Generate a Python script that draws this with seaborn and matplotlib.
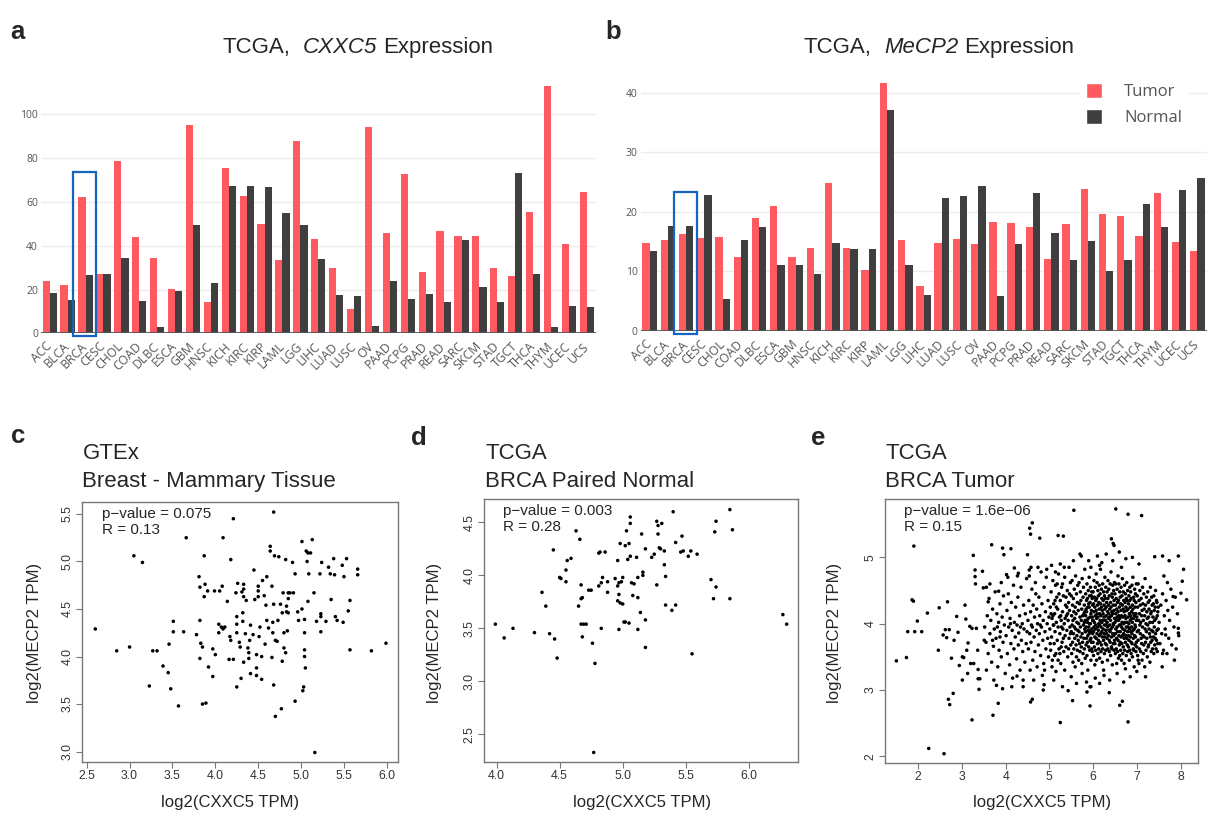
import numpy as np
import pandas as pd
import matplotlib
matplotlib.use("Agg")
import matplotlib.pyplot as plt
import seaborn as sns
from matplotlib.patches import Rectangle, Patch

# ---------------- data ----------------
cancers = ["ACC", "BLCA", "BRCA", "CESC", "CHOL", "COAD", "DLBC", "ESCA", "GBM", "HNSC",
           "KICH", "KIRC", "KIRP", "LAML", "LGG", "LIHC", "LUAD", "LUSC", "OV", "PAAD",
           "PCPG", "PRAD", "READ", "SARC", "SKCM", "STAD", "TGCT", "THCA", "THYM", "UCEC", "UCS"]

cxxc5_tumor = [23.7, 22.2, 62.1, 27.2, 78.7, 44.0, 34.2, 20.1, 95.3, 14.3,
               75.3, 62.9, 50.1, 33.6, 88.0, 43.2, 30.0, 11.1, 94.4, 46.0,
               72.9, 28.2, 46.9, 44.3, 44.3, 30.0, 26.0, 55.6, 113.1, 40.8, 64.4]
cxxc5_normal = [18.6, 15.2, 26.5, 27.2, 34.4, 14.9, 3.0, 19.5, 49.3, 23.0,
                67.1, 67.1, 67.0, 54.8, 49.3, 34.1, 17.4, 17.2, 3.3, 23.7,
                15.8, 18.1, 14.2, 42.5, 21.0, 14.2, 73.2, 27.2, 2.9, 12.6, 11.9]

mecp2_tumor = [14.7, 15.2, 16.2, 15.6, 15.8, 12.4, 18.9, 20.9, 12.5, 13.9,
               24.9, 14.0, 10.2, 41.7, 15.3, 7.6, 14.8, 15.5, 14.6, 18.3,
               18.2, 17.4, 12.0, 17.9, 23.8, 19.6, 19.3, 16.0, 23.1, 15.0, 13.5]
mecp2_normal = [13.4, 17.6, 17.6, 22.8, 5.4, 15.2, 17.4, 11.1, 11.1, 9.5,
                14.7, 13.8, 13.8, 37.1, 11.1, 6.0, 22.4, 22.7, 24.4, 5.9,
                14.6, 23.1, 16.5, 11.9, 15.1, 10.0, 11.9, 21.3, 17.4, 23.7, 25.7]

gtex_breast = [(2.60,4.29),(2.85,4.06),(3.00,4.10),(3.05,5.06),(3.15,4.99),(3.23,3.69),(3.27,4.06),(3.32,4.06),
 (3.39,3.90),(3.45,3.83),(3.46,4.13),(3.48,3.66),(3.51,4.37),(3.51,4.26),(3.57,3.48),(3.63,4.26),(3.66,5.25),
 (3.78,4.23),(3.81,4.84),(3.82,4.38),(3.82,4.73),(3.82,3.98),(3.83,4.14),(3.85,4.10),(3.87,5.06),(3.88,4.76),
 (3.87,4.63),(3.85,3.50),(3.89,3.51),(3.91,4.69),(3.92,3.89),(3.97,4.08),(3.97,3.79),(3.99,4.69),(4.00,4.02),
 (4.05,4.69),(4.04,4.25),(4.04,4.34),(4.07,4.31),(4.08,4.74),(4.09,5.25),(4.09,4.29),(4.11,4.31),(4.14,4.58),
 (4.16,3.97),(4.17,4.21),(4.18,5.02),(4.18,4.17),(4.21,5.45),(4.21,3.97),(4.24,4.67),(4.25,4.42),(4.25,4.34),
 (4.25,4.25),(4.25,3.68),(4.26,4.77),(4.28,4.15),(4.29,4.10),(4.30,3.77),(4.31,4.68),(4.32,4.46),(4.32,4.37),
 (4.33,4.76),(4.33,4.71),(4.33,4.63),(4.35,4.24),(4.33,3.94),(4.36,4.59),(4.38,4.09),(4.39,3.98),(4.39,4.04),
 (4.40,4.17),(4.41,3.82),(4.41,4.33),(4.44,4.23),(4.45,4.91),(4.46,4.60),(4.48,4.02),(4.48,3.80),(4.48,3.88),
 (4.50,4.74),(4.50,4.63),(4.51,4.21),(4.50,4.69),(4.52,4.31),(4.54,4.00),(4.54,3.76),(4.55,4.80),(4.57,4.64),
 (4.58,4.13),(4.59,4.54),(4.60,4.38),(4.60,4.84),(4.62,4.30),(4.64,5.11),(4.64,5.16),(4.66,4.74),(4.66,3.99),
 (4.67,4.36),(4.67,4.25),(4.68,5.52),(4.68,4.55),(4.68,3.70),(4.69,5.06),(4.70,4.17),(4.70,3.37),(4.72,4.16),
 (4.73,4.38),(4.74,5.05),(4.76,4.55),(4.77,3.45),(4.78,3.95),(4.78,4.46),(4.79,4.67),(4.80,4.25),(4.80,4.09),
 (4.82,4.04),(4.82,5.02),(4.83,4.47),(4.83,4.53),(4.84,4.27),(4.85,4.61),(4.85,4.46),(4.85,4.67),(4.87,4.67),
 (4.90,4.99),(4.91,4.67),(4.93,4.87),(4.93,3.53),(4.96,4.47),(4.97,4.38),(5.01,4.50),(5.01,5.21),(5.02,3.64),
 (5.03,3.68),(5.04,4.39),(5.04,4.25),(5.04,4.07),(5.04,4.00),(5.05,3.88),(5.06,5.11),(5.07,5.00),(5.08,5.09),
 (5.09,4.87),(5.08,4.58),(5.11,5.09),(5.13,5.23),(5.15,4.67),(5.18,4.37),(5.16,2.99),(5.22,4.87),(5.23,4.45),
 (5.23,4.42),(5.23,4.26),(5.24,4.99),(5.29,4.37),(5.32,4.94),(5.34,4.87),(5.35,4.60),(5.38,5.03),(5.39,4.86),
 (5.40,4.42),(5.42,4.38),(5.48,4.96),(5.49,4.36),(5.50,4.84),(5.53,5.03),(5.55,4.48),(5.57,4.59),(5.57,4.07),
 (5.66,4.92),(5.66,4.86),(5.82,4.06),(5.99,4.14)]

brca_normal = [(3.99,3.54),(4.06,3.41),(4.13,3.50),(4.30,3.46),(4.36,3.84),(4.39,3.71),(4.42,3.45),(4.45,4.24),
 (4.46,3.40),(4.48,3.22),(4.50,3.98),(4.51,3.97),(4.55,4.05),(4.55,3.94),(4.56,4.14),(4.59,4.16),(4.63,4.42),
 (4.65,3.71),(4.66,4.34),(4.67,3.91),(4.67,3.78),(4.68,3.79),(4.67,3.54),(4.69,3.54),(4.68,3.42),(4.71,3.54),
 (4.73,3.86),(4.75,3.86),(4.76,3.36),(4.78,3.17),(4.77,2.33),(4.81,3.90),(4.81,4.21),(4.82,4.22),(4.83,3.93),
 (4.83,3.50),(4.84,3.98),(4.86,4.22),(4.88,3.84),(4.88,3.94),(4.94,3.97),(4.96,3.76),(4.96,4.14),(4.96,3.90),
 (4.97,3.82),(4.97,3.49),(4.97,3.93),(4.98,4.30),(4.98,3.74),(4.99,3.94),(5.00,3.98),(5.00,3.73),(5.01,3.56),
 (5.02,3.56),(5.02,4.28),(5.03,4.42),(5.04,4.15),(5.05,3.55),(5.05,4.30),(5.06,4.49),(5.06,4.55),(5.06,4.18),
 (5.07,3.93),(5.08,3.81),(5.09,3.92),(5.11,4.17),(5.12,3.98),(5.12,3.49),(5.12,3.79),(5.14,3.65),(5.15,4.39),
 (5.16,4.03),(5.16,4.00),(5.18,3.58),(5.18,3.32),(5.18,4.25),(5.23,4.17),(5.25,4.20),(5.27,3.91),(5.27,4.51),
 (5.28,4.39),(5.28,4.47),(5.29,4.26),(5.30,4.25),(5.31,4.49),(5.33,4.23),(5.33,4.10),(5.34,3.99),(5.34,3.72),
 (5.39,3.67),(5.40,4.60),(5.42,4.31),(5.42,3.72),(5.46,4.22),(5.47,4.37),(5.48,4.23),(5.52,4.18),(5.54,4.23),
 (5.55,3.26),(5.59,4.20),(5.70,3.96),(5.72,3.78),(5.73,4.41),(5.74,4.51),(5.74,3.89),(5.85,3.78),(5.85,4.62),
 (5.87,4.43),(6.27,3.63),(6.30,3.54)]

# BRCA tumour: sparse outer points read individually
brca_tumor_outer = [(1.50,3.44),(1.73,3.49),(1.76,3.88),(1.90,5.17),(1.86,4.36),(1.89,4.34),(1.92,3.88),(1.98,4.04),
 (2.08,3.88),(2.21,4.16),(2.24,2.12),(2.59,2.04),(2.48,4.24),(2.46,3.60),(2.67,4.33),(2.57,3.83),(2.62,3.91),
 (2.65,3.79),(2.71,3.91),(2.69,2.86),(2.72,2.78),(2.76,3.48),(2.80,2.95),(2.82,3.75),(2.88,4.11),(2.91,3.87),
 (2.94,3.37),(3.01,3.50),(3.01,3.15),(3.07,4.28),(3.04,3.49),(3.11,3.60),(3.09,4.07),(3.13,3.25),(3.14,3.71),
 (3.18,3.96),(3.20,3.40),(3.23,2.55),(3.23,3.93),(3.26,5.03),(3.30,4.81),(3.30,4.71),(3.27,3.40),(3.31,4.60),
 (3.33,3.93),(3.36,3.60),(3.37,3.31),(3.37,3.17),(3.39,3.01),(3.41,3.17),(3.47,4.79),(3.49,4.54),(3.51,3.75),
 (3.56,4.55),(3.60,4.33),(3.68,5.19),(3.70,3.75),(3.71,2.62),(3.79,3.07),(3.83,2.80),(3.84,4.49),(3.87,3.80),
 (3.93,3.02),(3.93,5.14),(3.96,5.04),(4.02,4.74),(4.12,5.13),(4.20,4.84),(4.26,3.21),(4.29,4.76),(4.40,3.05),
 (4.50,5.04),(4.54,4.81),(4.55,5.44),(4.61,5.52),(4.57,5.35),(4.57,2.82),(4.61,2.86),(4.78,5.29),(4.86,3.00),
 (4.88,3.08),(5.20,5.33),(5.25,2.51),(5.32,5.32),(5.53,2.84),(5.43,2.99),(5.56,5.71),(5.73,5.02),(5.86,2.97),
 (5.93,2.76),(5.93,3.05),(6.37,2.96),(6.42,5.28),(6.46,5.21),(6.48,5.18),(6.52,5.73),(6.61,2.77),(6.67,2.83),
 (6.80,5.65),(6.80,2.52),(7.11,5.63),(7.03,3.45),(7.41,5.01),(7.59,5.02),(7.74,4.95),(7.95,5.02),(8.01,4.46),
 (8.04,4.64),(8.07,4.82),(8.14,4.36),(7.95,3.93),(7.95,3.86),(7.83,4.41),(7.59,3.55),(7.66,3.83)]

# BRCA tumour: moderately dense region, x 3.5-5.5
brca_tumor_mid = [(3.52,3.95),(3.55,3.72),(3.58,4.12),(3.60,3.55),(3.62,4.38),(3.64,3.85),(3.66,4.05),(3.68,3.42),
 (3.70,4.22),(3.72,3.66),(3.74,3.92),(3.76,4.48),(3.78,3.78),(3.80,4.15),(3.82,3.35),(3.84,4.02),(3.85,3.60),
 (3.87,4.30),(3.88,3.88),(3.90,3.50),(3.92,4.10),(3.94,3.72),(3.95,4.42),(3.97,3.98),(3.99,3.25),(3.56,3.30),
 (3.73,3.15),(3.90,4.62),(3.64,4.60),(3.81,3.95),
 (4.01,3.82),(4.03,4.20),(4.04,3.55),(4.06,4.45),(4.07,3.95),(4.09,3.38),(4.10,4.08),(4.12,3.70),(4.13,4.32),
 (4.15,3.90),(4.16,3.18),(4.18,4.58),(4.19,3.62),(4.20,4.02),(4.22,3.80),(4.23,4.25),(4.25,3.47),(4.26,3.98),
 (4.28,4.40),(4.29,3.68),(4.30,3.86),(4.32,4.12),(4.33,3.30),(4.35,4.55),(4.36,3.75),(4.38,4.00),(4.39,3.58),
 (4.41,4.28),(4.42,3.92),(4.44,3.42),(4.45,4.15),(4.47,3.70),(4.48,4.68),(4.49,3.88),(4.05,4.70),(4.14,3.05),
 (4.27,4.72),(4.40,3.15),(4.11,4.00),(4.34,3.95),
 (4.51,4.05),(4.52,3.62),(4.53,4.35),(4.55,3.85),(4.56,3.30),(4.57,4.18),(4.58,3.72),(4.60,4.52),(4.61,3.95),
 (4.62,3.45),(4.63,4.28),(4.65,3.80),(4.66,4.10),(4.67,3.58),(4.68,4.62),(4.70,3.90),(4.71,4.22),(4.72,3.35),
 (4.73,4.00),(4.75,3.68),(4.76,4.40),(4.77,3.85),(4.78,4.12),(4.80,3.52),(4.81,4.78),(4.82,3.95),(4.83,4.30),
 (4.85,3.75),(4.86,4.05),(4.87,3.40),(4.88,4.55),(4.90,3.88),(4.91,4.18),(4.92,3.62),(4.93,4.70),(4.95,4.00),
 (4.96,3.78),(4.97,4.35),(4.98,3.50),(4.99,4.10),(4.54,4.72),(4.64,3.15),(4.74,4.85),(4.84,3.22),(4.94,4.82),
 (4.59,3.98),(4.69,4.45),(4.79,3.98),(4.89,3.30),(4.58,4.85),
 (5.01,3.92),(5.02,4.25),(5.03,3.60),(5.04,4.48),(5.05,3.80),(5.06,4.08),(5.07,3.45),(5.08,4.65),(5.09,3.98),
 (5.10,4.30),(5.11,3.70),(5.12,4.15),(5.13,3.88),(5.14,4.58),(5.15,3.55),(5.16,4.02),(5.17,4.40),(5.18,3.75),
 (5.19,4.22),(5.20,3.95),(5.21,4.75),(5.22,3.62),(5.23,4.10),(5.24,3.85),(5.25,4.35),(5.26,3.40),(5.27,4.05),
 (5.28,4.55),(5.29,3.72),(5.30,4.18),(5.31,3.92),(5.32,4.42),(5.33,3.58),(5.34,4.00),(5.35,4.70),(5.36,3.82),
 (5.37,4.28),(5.38,3.65),(5.39,4.12),(5.40,3.90),(5.41,4.50),(5.42,3.50),(5.43,4.05),(5.44,4.32),(5.45,3.78),
 (5.46,4.20),(5.47,3.95),(5.48,4.62),(5.49,3.68),(5.05,4.88),(5.15,3.28),(5.25,4.90),(5.35,3.30),(5.45,4.85),
 (5.12,3.52),(5.22,4.45),(5.32,3.78),(5.42,4.15),(5.08,4.12),(5.18,4.60),(5.28,3.95),(5.38,4.40),(5.48,3.85),
 (5.02,3.70),(5.13,4.35),(5.27,3.65),(5.36,4.08),(5.46,4.45),(5.10,3.98),(5.20,3.45),(5.30,4.60),(5.40,4.25),
 (5.04,4.15),(5.14,4.78),(5.24,3.55),(5.34,4.85),(5.44,3.62),(5.06,3.35),(5.16,4.25),(5.26,4.12)]

# BRCA tumour: dense core, CXXC5 value -> MECP2 values estimated at that CXXC5 level
brca_tumor_core = {
 5.50:(3.88,4.42),5.51:(4.12,3.55),5.52:(4.65,3.98),5.53:(3.72,4.28),5.54:(4.05,3.42),5.55:(4.38,3.85),
 5.56:(3.62,4.18),5.57:(4.52,3.95),5.58:(3.78,4.08),5.59:(4.25,3.35),5.60:(3.92,4.72),5.61:(4.15,3.68),
 5.62:(3.50,4.45),5.63:(4.02,3.82),5.64:(4.32,3.60),5.65:(3.90,4.58),5.66:(4.20,3.75),5.67:(3.45,4.00),
 5.68:(4.62,3.88),5.69:(3.70,4.30),5.70:(4.10,3.58),5.71:(3.95,4.48),5.72:(4.35,3.80),5.73:(3.65,4.05),
 5.74:(4.22,3.40),5.75:(3.85,4.68),5.76:(4.12,3.72),5.77:(3.55,4.40),5.78:(4.55,3.98),5.79:(3.78,4.15),
 5.80:(4.28,3.62,4.02),5.81:(3.92,4.82,4.18),5.82:(4.05,3.48,3.88),5.83:(4.45,3.88,4.12),5.84:(3.68,4.22,3.95),
 5.85:(4.18,3.78,4.35),5.86:(3.52,4.60,4.05),5.87:(4.38,4.02,3.72),5.88:(3.82,3.30,4.25),5.89:(4.08,4.50,3.9),
 5.90:(3.95,3.65,4.3),5.91:(4.70,4.25,3.85),5.92:(3.60,4.00,4.42),5.93:(4.32,3.75,4.1),5.94:(3.88,4.55,4.0),
 5.95:(4.15,3.45,3.78),5.96:(3.72,4.42,4.2),5.97:(4.48,3.92,3.62),5.98:(3.58,4.10,4.38),5.99:(4.28,3.85,4.05),
 6.00:(4.05,3.72,4.48),6.01:(3.88,4.30,3.52),6.02:(4.18,3.95,4.65),6.03:(3.65,4.40,4.02),6.04:(4.25,3.80,3.38),
 6.05:(3.92,4.55,4.12),6.06:(4.35,3.60,3.98),6.07:(3.78,4.20,4.75),6.08:(4.08,3.45,4.38),6.09:(3.85,4.62,4.15),
 6.10:(4.28,3.70,3.95),6.11:(3.55,4.10,4.50),6.12:(4.42,3.90,3.75),6.13:(4.00,4.32,3.62),6.14:(3.82,4.58,4.22),
 6.15:(4.15,3.48,3.98),6.16:(3.72,4.45,4.05),6.17:(4.30,3.85,4.82),6.18:(3.95,4.12,3.58),6.19:(4.52,3.68,4.25),
 6.20:(3.88,4.38,4.02),6.21:(4.20,3.42,3.80),6.22:(3.62,4.05,4.60),6.23:(4.35,3.92,4.15),6.24:(3.75,4.48,3.30),
 6.25:(4.10,3.85,4.28),6.26:(4.42,3.55,3.98),6.27:(3.80,4.22,4.70),6.28:(4.05,3.70,4.38),6.29:(3.90,4.55,3.60),
 6.30:(4.25,3.98,4.12),6.31:(3.68,4.32,3.85),6.32:(4.48,3.78,4.02),6.33:(3.95,4.18,3.45),6.34:(4.38,3.62,4.65),
 6.35:(3.82,4.08,4.28),6.36:(4.15,3.90,4.52),6.37:(3.58,4.42,3.75),6.38:(4.22,3.98,4.10),6.39:(3.72,4.60,3.88),
 6.40:(4.32,3.52,4.05),6.41:(3.92,4.25,4.78),6.42:(4.12,3.80,3.65),6.43:(3.62,4.45,4.18),6.44:(4.40,3.95,3.38),
 6.45:(3.85,4.15,4.58),6.46:(4.28,3.70,4.00),6.47:(3.98,4.50,3.82),6.48:(4.20,3.60,4.35),6.49:(3.75,4.08,4.62),
 6.50:(4.02,3.70,4.45),6.51:(3.85,4.28,3.55),6.52:(4.15,3.92,4.60),6.53:(3.62,4.38,4.05),6.54:(4.22,3.78,3.40),
 6.55:(3.95,4.52,4.10),6.56:(4.32,3.58,3.88),6.57:(3.75,4.18,4.72),6.58:(4.05,3.48,4.35),6.59:(3.82,4.60,4.12),
 6.60:(4.25,3.68,3.98),6.61:(3.52,4.08,4.48),6.62:(4.40,3.88,3.72),6.63:(3.98,4.30,3.60),6.64:(3.80,4.55,4.20),
 6.65:(4.12,3.45,3.95),6.66:(3.70,4.42,4.02),6.67:(4.28,3.82,4.68),6.68:(3.92,4.10,3.55),6.69:(4.48,3.65,4.22),
 6.70:(3.85,4.35,4.00),6.71:(4.18,3.40,3.78),6.72:(3.60,4.02,4.58),6.73:(4.32,3.90,4.12),6.74:(3.72,4.45,3.32),
 6.75:(4.08,3.82,4.25),6.76:(4.38,3.52,3.95),6.77:(3.78,4.20,4.62),6.78:(4.02,3.68,4.35),6.79:(3.88,4.50,3.58),
 6.80:(4.22,3.95,4.10),6.81:(3.65,4.30,3.82),6.82:(4.42,3.75,4.00),6.83:(3.92,4.15,3.45),6.84:(4.35,3.60,4.55),
 6.85:(3.80,4.05,4.25),6.86:(4.12,3.88,4.48),6.87:(3.55,4.38,3.72),6.88:(4.18,3.95,4.08),6.89:(3.70,4.58,3.85),
 6.90:(4.28,3.50,4.02),6.91:(3.90,4.22,4.70),6.92:(4.08,3.78,3.62),6.93:(3.60,4.40,4.15),6.94:(4.35,3.92,3.35),
 6.95:(3.82,4.12,4.52),6.96:(4.25,3.68,3.98),6.97:(3.95,4.45,3.80),6.98:(4.15,3.58,4.32),6.99:(3.72,4.05,4.60),
 7.00:(4.10,3.65),7.01:(3.88,4.42),7.02:(4.25,3.52),7.03:(3.75,4.60),7.04:(4.05,3.90),7.05:(4.35,3.40),
 7.06:(3.62,4.15),7.07:(4.50,3.98),7.08:(3.85,4.28),7.09:(4.02,3.58),7.10:(4.38,3.78),7.11:(3.70,4.12),
 7.12:(4.20,3.45),7.13:(3.95,4.55),7.14:(4.30,3.82),7.15:(3.55,4.05),7.16:(4.45,3.68),7.17:(3.80,4.22),
 7.18:(4.12,3.35),7.19:(3.92,4.68),7.20:(4.28,3.72),7.21:(3.60,4.00),7.22:(4.40,3.88),7.23:(3.78,4.18),
 7.24:(4.08,3.50),7.25:(3.98,4.48),7.26:(4.32,3.65),7.27:(3.68,4.10),7.28:(4.22,3.92),7.29:(3.85,4.35),
 7.30:(4.02,3.42),7.31:(4.55,3.80),7.32:(3.72,4.15),7.33:(4.18,3.58),7.34:(3.90,4.40),7.35:(4.28,3.75),
 7.36:(3.62,4.02),7.37:(4.10,3.88),7.38:(3.80,4.30),7.39:(4.42,3.55),7.40:(3.95,4.20),7.41:(3.68,4.05),
 7.42:(4.25,3.78),7.43:(3.85,4.50),7.44:(4.08,3.62),7.45:(3.75,4.35),7.46:(4.32,3.90),7.47:(3.58,4.12),
 7.48:(4.18,3.70),7.49:(3.92,4.25),
 7.51:(4.02,),7.53:(3.70,),7.55:(4.28,),7.57:(3.85,),7.59:(4.45,),7.61:(3.60,),7.63:(4.12,),7.65:(3.92,),
 7.67:(4.35,),7.69:(3.55,),7.71:(4.20,),7.73:(3.78,),7.75:(4.05,),7.78:(4.52,),7.80:(3.68,),7.82:(4.25,),
 7.85:(3.95,),7.88:(4.40,),7.90:(3.62,),7.93:(4.15,),7.96:(3.82,),7.58:(3.35,),7.70:(4.62,),7.86:(3.45,),
 7.62:(4.72,)}

brca_tumor_fringe = [(5.10,3.15),(5.30,3.05),(5.50,3.20),(5.62,3.10),(5.75,3.25),(5.85,3.12),(5.95,3.05),
 (6.05,3.18),(6.15,3.10),(6.25,3.22),(6.38,3.15),(6.55,3.25),(6.70,3.12),(6.85,3.20),(7.00,3.28),(7.20,3.20),
 (5.55,4.95),(5.70,5.05),(5.90,4.95),(6.10,5.02),(6.20,4.92),(6.30,5.05),(6.45,4.95),(6.60,5.08),(6.75,4.98),
 (6.90,5.00),(7.05,4.90),(6.15,4.88),(6.65,4.85),(5.95,4.85)]

# ---------------- style ----------------
RED = "#FF5A5F"
DARK = "#3F3F3F"
BLUE = "#1565C0"

sns.set_theme(style="white")
plt.rcParams["font.family"] = ["Liberation Sans", "DejaVu Sans"]

W, H = 1207, 815
fig = plt.figure(figsize=(W / 100, H / 100), dpi=100)
renderer = fig.canvas.get_renderer()


def add_ax(l, t, r, b):
    return fig.add_axes([l / W, 1 - b / H, (r - l) / W, (b - t) / H])


def ftext(x, y, s, **kw):
    return fig.text(x / W, 1 - y / H, s, **kw)


def mixed_title(xc, yc, parts, fontsize):
    """parts: list of (text, style, spaces_after)"""
    em = fontsize * 100 / 72
    items = []
    total = 0
    for s, style, gap in parts:
        t = ftext(0, yc, s, fontsize=fontsize, fontstyle=style, ha="left", va="center")
        w = t.get_window_extent(renderer).width
        items.append((t, w, gap * 0.278 * em))
        total += w + gap * 0.278 * em
    x = xc - total / 2
    for t, w, g in items:
        t.set_position((x / W, 1 - yc / H))
        x += w + g


def bar_panel(ax, tumor, normal, ymax, yticks, box_top):
    df = pd.DataFrame({"cancer": cancers * 2,
                       "value": tumor + normal,
                       "group": ["Tumor"] * len(cancers) + ["Normal"] * len(cancers)})
    sns.barplot(data=df, x="cancer", y="value", hue="group", order=cancers,
                hue_order=["Tumor", "Normal"], palette={"Tumor": RED, "Normal": DARK},
                saturation=1, width=0.8, linewidth=0, legend=False, ax=ax)
    ax.set_xlim(-0.5, len(cancers) - 0.5)
    ax.set_ylim(0, ymax)
    ax.set_yticks(yticks)
    ax.grid(axis="y", color="#ececec", lw=1)
    ax.grid(axis="x", visible=False)
    ax.set_axisbelow(True)
    for s in ax.spines.values():
        s.set_visible(False)
    ax.axhline(0, color="#555555", lw=1.3, zorder=5)
    ax.tick_params(axis="both", length=0, labelcolor="#555555")
    ax.tick_params(axis="y", pad=2, labelsize=7.5)
    ax.tick_params(axis="x", pad=8, labelsize=8.8)
    for lab in ax.get_xticklabels() + ax.get_yticklabels():
        lab.set_fontfamily("Open Sans")
    plt.setp(ax.get_xticklabels(), rotation=45, ha="right", va="center", rotation_mode="anchor")
    ax.set_xlabel("")
    ax.set_ylabel("")
    i = cancers.index("BRCA")
    ax.add_patch(Rectangle((i - 0.68, -ymax * 0.012), 1.26, box_top + ymax * 0.012,
                           fill=False, edgecolor=BLUE, lw=1.6, clip_on=False, zorder=6))


def scatter_panel(ax, pts, xlim, ylim, xticks, yticks, xlabels, ylabels, ptxt, rtxt):
    d = pd.DataFrame(pts, columns=["cxxc5", "mecp2"])
    sns.scatterplot(data=d, x="cxxc5", y="mecp2", s=6.5, color="black",
                    edgecolor="none", linewidth=0, ax=ax)
    ax.set_xlim(xlim)
    ax.set_ylim(ylim)
    ax.set_xticks(xticks)
    ax.set_yticks(yticks)
    ax.set_xticklabels(xlabels)
    ax.set_yticklabels(ylabels)
    for s in ax.spines.values():
        s.set_visible(True)
        s.set_color("#777777")
        s.set_linewidth(1.0)
    ax.tick_params(axis="both", direction="out", length=4, width=0.8, color="#777777",
                   labelsize=8.8, labelcolor="#333333", left=True, bottom=True, pad=2)
    plt.setp(ax.get_yticklabels(), rotation=90, va="center")
    ax.set_xlabel("")
    ax.set_ylabel("")
    ax.text(0.062, 0.953, ptxt, transform=ax.transAxes, fontsize=11, va="center", ha="left")
    ax.text(0.062, 0.893, rtxt, transform=ax.transAxes, fontsize=11, va="center", ha="left")


LBL = dict(fontsize=18.5, fontweight="bold", ha="left", va="baseline")

# ---------------- panel a ----------------
axa = add_ax(40.8, 74.9, 595.8, 333.3)
bar_panel(axa, cxxc5_tumor, cxxc5_normal, 118, [0, 20, 40, 60, 80, 100], 73.8)
mixed_title(358, 47.5, [("TCGA,", "normal", 2), ("CXXC5", "italic", 1), ("Expression", "normal", 0)], 16)
ftext(10, 39, "a", **LBL)

# ---------------- panel b ----------------
axb = add_ax(640.5, 68.8, 1206.5, 331)
bar_panel(axb, mecp2_tumor, mecp2_normal, 44, [0, 10, 20, 30, 40], 23.3)
mixed_title(939, 47.5, [("TCGA,", "normal", 2), ("MeCP2", "italic", 1), ("Expression", "normal", 0)], 16)
ftext(605, 39, "b", **LBL)
leg = axb.legend(handles=[Patch(facecolor=RED), Patch(facecolor=DARK)], labels=["Tumor", "Normal"],
                 loc="upper left", bbox_to_anchor=(1079 / W, 1 - 76 / H), bbox_transform=fig.transFigure,
                 frameon=True, facecolor="white", edgecolor="none", framealpha=1, fancybox=False,
                 prop={"family": "Open Sans", "size": 12}, handlelength=1.0, handleheight=1.0,
                 handletextpad=1.3, labelspacing=0.55, borderpad=0.4, borderaxespad=0)
for t in leg.get_texts():
    t.set_color("#555555")

# ---------------- panel c ----------------
axc = add_ax(82, 502, 398, 762)
c_xt = [2.5, 3.0, 3.5, 4.0, 4.5, 5.0, 5.5, 6.0]
c_yt = [3.0, 3.5, 4.0, 4.5, 5.0, 5.5]
scatter_panel(axc, gtex_breast, (2.445, 6.13), (2.89, 5.626), c_xt, c_yt,
              [f"{v:.1f}" for v in c_xt], [f"{v:.1f}" for v in c_yt],
              "p\u2212value = 0.075", "R = 0.13")
ftext(11, 443, "c", **LBL)
ftext(82.5, 459, "GTEx", fontsize=16, ha="left", va="baseline")
ftext(82.5, 487, "Breast - Mammary Tissue", fontsize=16, ha="left", va="baseline")
ftext(230, 803, "log2(CXXC5 TPM)", fontsize=12, ha="center", va="center")
ftext(35, 633, "log2(MECP2 TPM)", fontsize=12, ha="center", va="center", rotation=90)

# ---------------- panel d ----------------
axd = add_ax(484, 499, 798, 762)
d_xt = [4.0, 4.5, 5.0, 5.5, 6.0]
d_yt = [2.5, 3.0, 3.5, 4.0, 4.5]
scatter_panel(axd, brca_normal, (3.90, 6.39), (2.24, 4.72), d_xt, d_yt,
              [f"{v:.1f}" for v in d_xt], [f"{v:.1f}" for v in d_yt],
              "p\u2212value = 0.003", "R = 0.28")
ftext(411, 445, "d", **LBL)
ftext(485, 459, "TCGA", fontsize=16, ha="left", va="baseline")
ftext(485, 487, "BRCA Paired Normal", fontsize=16, ha="left", va="baseline")
ftext(641.7, 803, "log2(CXXC5 TPM)", fontsize=12, ha="center", va="center")
ftext(435, 633, "log2(MECP2 TPM)", fontsize=12, ha="center", va="center", rotation=90)

# ---------------- panel e ----------------
core_pts = [(x, y) for x, ys in brca_tumor_core.items() for y in ys]
brca_tumor = brca_tumor_outer + brca_tumor_mid + core_pts + brca_tumor_fringe
axe = add_ax(885, 499, 1198, 763)
e_xt = [2, 3, 4, 5, 6, 7, 8]
e_yt = [2, 3, 4, 5]
scatter_panel(axe, brca_tumor, (1.24, 8.40), (1.90, 5.88), e_xt, e_yt,
              [str(v) for v in e_xt], [str(v) for v in e_yt],
              "p\u2212value = 1.6e\u221206", "R = 0.15")
ftext(811, 445, "e", **LBL)
ftext(885, 459, "TCGA", fontsize=16, ha="left", va="baseline")
ftext(885, 487, "BRCA Tumor", fontsize=16, ha="left", va="baseline")
ftext(1041.7, 803, "log2(CXXC5 TPM)", fontsize=12, ha="center", va="center")
ftext(835, 633, "log2(MECP2 TPM)", fontsize=12, ha="center", va="center", rotation=90)

fig.savefig("out.png", dpi=100)
